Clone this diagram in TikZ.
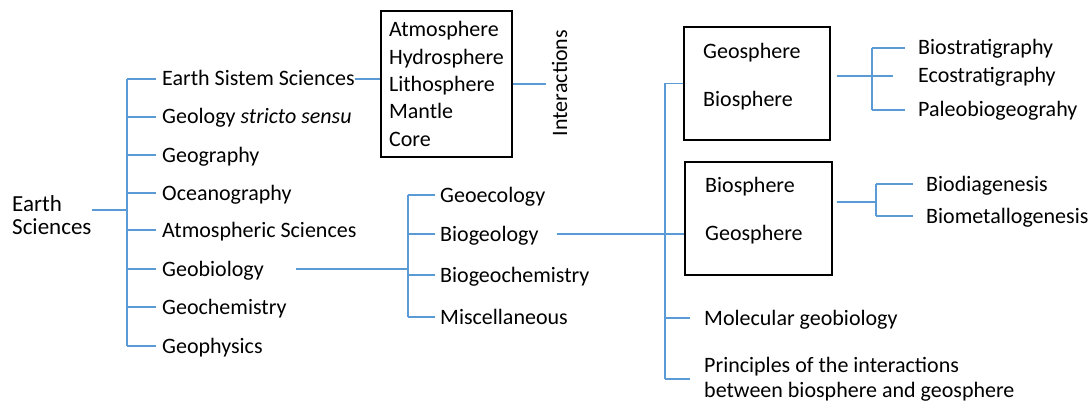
\documentclass[tikz,border=0pt]{standalone}
\usepackage{fontspec}
\setmainfont{Carlito}
\usetikzlibrary{positioning}
\definecolor{custom-blue}{RGB}{91, 155, 213}

\begin{document}
\begin{tikzpicture}[x=1pt,y=-1pt,
    item/.style={anchor=west, inner sep=0pt, text height=14pt, text depth=0pt,
      font=\fontsize{22}{26}\selectfont},
    note/.style={anchor=west, inner sep=0pt, align=left,
      font=\fontsize{22}{25}\selectfont},
    link/.style={draw=custom-blue, line width=1.1pt},
    frame/.style={draw=black, line width=1.2pt, inner sep=0pt}]
\useasboundingbox (0,0) rectangle (1089,401);

% left column
\node[note, font=\fontsize{23}{23}\selectfont] (earth) at (12,215) {Earth\\Sciences};
\coordinate (trunk) at (127,210);
\foreach \name/\txt/\y in {ess/Earth Sistem Sciences/79, gss/Geology \textit{stricto sensu}/117,
    geog/Geography/155, ocea/Oceanography/193, atms/Atmospheric Sciences/230,
    gbio/Geobiology/269, gchm/Geochemistry/307, gphy/Geophysics/346}
  \node[item] (\name) at (162,\y) {\txt};
\draw[link] ([yshift=5pt]earth.east) -- (trunk);
\draw[link] (trunk |- ess.west) -- (trunk |- gphy.west);
\foreach \name in {ess,gss,geog,ocea,atms,gbio,gchm,gphy}
  \draw[link] (trunk |- \name.west) -- ([xshift=-6pt]\name.west);

% spheres
\node[frame, align=left, inner xsep=8pt, minimum width=129pt, minimum height=146pt,
  font=\fontsize{22}{27.3}\selectfont] (spheres) at (446.5,84)
  {Atmosphere\\Hydrosphere\\Lithosphere\\Mantle\\Core};
\node[item, anchor=center, rotate=90] (inter) at (560,83) {Interactions};
\draw[link] (ess.east) -- (ess.east -| spheres.west);
\draw[link] (spheres.east) -- ([xshift=-7pt]inter.north |- spheres.east);

% geobiology
\coordinate (gtrunk) at (408,268);
\foreach \name/\txt/\y in {geco/Geoecology/195, bgeo/Biogeology/234,
    bgch/Biogeochemistry/275, misc/Miscellaneous/317}
  \node[item] (\name) at (440,\y) {\txt};
\draw[link] ([xshift=32pt]gbio.east) -- (gbio.east -| gtrunk);
\draw[link] (gtrunk |- geco.west) -- (gtrunk |- misc.west);
\foreach \name in {geco,bgeo,bgch,misc}
  \draw[link] (gtrunk |- \name.west) -- ([xshift=-5pt]\name.west);

% biogeology
\node[frame, minimum width=146pt, minimum height=113pt] (upbox) at (757,83.5) {};
\node[item] (up-geo) at (703,52) {Geosphere};
\node[item] (up-bio) at (703,100) {Biosphere};
\node[frame, minimum width=147pt, minimum height=113pt] (lowbox) at (758.5,218.5) {};
\node[item] (low-bio) at (705,185) {Biosphere};
\node[item] (low-geo) at (705,233) {Geosphere};
\node[item] (molgeo) at (704,318) {Molecular geobiology};
\node[note] (princ) at (704,379) {Principles of the interactions\\between biosphere and geosphere};
\coordinate (rtrunk) at (665,82);
\draw[link] ([xshift=18pt]bgeo.east) -- (bgeo.east -| lowbox.west);
\draw[link] (rtrunk |- upbox.west) -- (rtrunk |- princ.west);
\draw[link] (rtrunk |- upbox.west) -- (upbox.west);
\draw[link] (rtrunk |- molgeo.west) -- ([xshift=-14pt]molgeo.west);
\draw[link] (rtrunk |- princ.west) -- ([xshift=-14pt]princ.west);

% stratigraphy
\coordinate (strat) at (872,76);
\foreach \name/\txt/\y in {biost/Biostratigraphy/48, ecost/Ecostratigraphy/76,
    paleo/Paleobiogeograhy/110}
  \node[item] (\name) at (918,\y) {\txt};
\draw[link] ([xshift=6pt]upbox.east |- strat) -- (strat);
\draw[link] (strat |- biost.west) -- (strat |- paleo.west);
\draw[link] (strat |- biost.west) -- ([xshift=-13pt]biost.west);
\draw[link] (strat |- ecost.west) -- ([xshift=-25pt]ecost.west);
\draw[link] (strat |- paleo.west) -- ([xshift=-13pt]paleo.west);

% diagenesis
\coordinate (diag) at (876,202);
\node[item] (biodia) at (926,184) {Biodiagenesis};
\node[item] (biomet) at (926,216) {Biometallogenesis};
\draw[link] ([xshift=4pt]lowbox.east |- diag) -- (diag);
\draw[link] (diag |- biodia.west) -- (diag |- biomet.west);
\draw[link] (diag |- biodia.west) -- ([xshift=-13pt]biodia.west);
\draw[link] (diag |- biomet.west) -- ([xshift=-13pt]biomet.west);
\end{tikzpicture}
\end{document}
